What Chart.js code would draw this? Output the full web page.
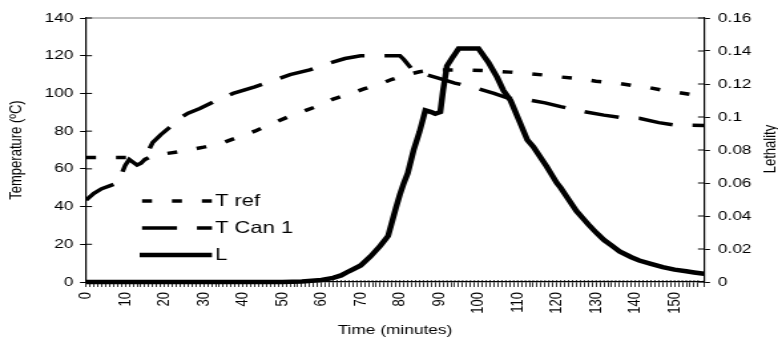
<!DOCTYPE html>
<html>
<head>
<meta charset="utf-8">
<script src="https://cdn.jsdelivr.net/npm/chart.js@4/dist/chart.umd.min.js"></script>
<style>
  html, body { margin: 0; padding: 0; background: #fff; overflow: hidden; }
</style>
</head>
<body>
<!-- the reference is stretched sideways, so the canvas is drawn narrow and shown wide -->
<canvas id="chart" width="585" height="340" style="display:block;width:778px;height:340px"></canvas>
<script>
// T ref (short dash), degrees C
const refTimes = [0, 11, 12, 13, 14, 15, 17, 20, 25, 30, 35, 39, 43, 48, 52, 56, 60, 63, 67, 71, 75, 78, 82, 85, 88, 93, 98, 103, 108, 113, 117, 121, 125, 130, 135, 139, 143, 147, 150, 154, 157.5];
const refTemps = [66, 66, 64, 62.5, 63, 65, 67, 68, 69.5, 71.5, 74, 77, 80, 84.5, 88, 91, 94, 97, 99.5, 102.5, 105, 107.5, 110, 111.5, 112.3, 112.4, 112.4, 112, 111.3, 110.5, 109.7, 108.7, 108, 106.5, 105.5, 104.3, 103.3, 101.7, 100.8, 99.5, 98.5];

// T Can 1 (long dash), degrees C
const canTimes = [0, 2, 4, 6, 8, 9, 10, 11, 12, 13, 14, 15, 16, 17, 19, 21, 24, 26, 29, 33, 37.5, 43, 48, 52, 57, 62, 66, 70, 80, 81, 83, 85, 90, 94, 99, 104, 107.5, 113, 117, 121, 127, 132, 136, 141, 146, 150, 157.5];
const canTemps = [43.5, 47, 49.5, 51, 52.5, 57, 62, 65, 63.5, 62, 63, 65.5, 70, 74, 78, 81.5, 87, 89.5, 92, 96, 100, 103.5, 107, 110, 112.5, 116, 118.5, 120, 120, 118, 113, 111, 108, 105.5, 103, 100, 97.5, 96.5, 95, 93, 90.3, 88.5, 87.3, 86.8, 84.5, 83.2, 83];

// L (solid), lethality on the right axis
const letTimes = [0, 50, 55, 60, 63, 65, 67, 70, 72.5, 75, 77, 79, 80, 81, 82, 83.5, 85, 86.5, 88, 89, 90.3, 91, 92, 93.4, 95, 100, 102.6, 104.8, 106.4, 108.2, 110, 112.5, 114, 117.4, 120, 121, 123, 125, 128, 130, 132, 134, 136, 139, 141, 144, 147, 150, 153, 155, 157.5];
const letValues = [0, 0, 0.0003, 0.0012, 0.0025, 0.004, 0.0065, 0.01, 0.0155, 0.022, 0.028, 0.045, 0.053, 0.06, 0.066, 0.08, 0.091, 0.104, 0.103, 0.102, 0.103, 0.116, 0.131, 0.136, 0.1415, 0.1415, 0.133, 0.124, 0.116, 0.11, 0.1, 0.086, 0.082, 0.07, 0.06, 0.057, 0.05, 0.043, 0.035, 0.03, 0.0255, 0.022, 0.0185, 0.015, 0.013, 0.011, 0.009, 0.0075, 0.0065, 0.0058, 0.005];

const seriesNames = ['T ref', 'T Can 1', 'L'];
const tempTicks = [0, 140, 20];
const lethTicks = [0, 0.16, 0.02];

const FONT = 'Arial, "Liberation Sans", sans-serif';

function points(times, values) {
  return times.map((t, i) => ({ x: t, y: values[i] }));
}

// axis titles, top frame, inner halves of the ticks and the legend inside the plot
const decor = {
  id: 'decor',
  afterDraw(chart) {
    const { ctx, chartArea: a, scales } = chart;
    ctx.save();

    ctx.strokeStyle = '#808080';
    ctx.lineWidth = 1.2;
    ctx.beginPath();
    ctx.moveTo(a.left, a.top);
    ctx.lineTo(a.right, a.top);
    ctx.stroke();

    ctx.strokeStyle = '#000';
    ctx.lineWidth = 1;
    scales.y.ticks.forEach(t => {
      const py = scales.y.getPixelForValue(t.value);
      ctx.beginPath(); ctx.moveTo(a.left, py); ctx.lineTo(a.left + 4.5, py); ctx.stroke();
    });
    scales.y1.ticks.forEach(t => {
      const py = scales.y1.getPixelForValue(t.value);
      ctx.beginPath(); ctx.moveTo(a.right - 4.5, py); ctx.lineTo(a.right, py); ctx.stroke();
    });
    ctx.lineWidth = 0.8;
    scales.x.ticks.forEach(t => {
      const px = scales.x.getPixelForValue(t.value);
      ctx.beginPath(); ctx.moveTo(px, a.bottom - 2); ctx.lineTo(px, a.bottom); ctx.stroke();
    });

    ctx.fillStyle = '#000';
    ctx.font = '13px ' + FONT;
    ctx.textAlign = 'center';
    ctx.textBaseline = 'middle';
    ctx.fillText('Time (minutes)', 297, 330);

    ctx.save();
    ctx.translate(12.5, 150);
    ctx.rotate(-Math.PI / 2);
    ctx.fillText('Temperature (ºC)', 0, 0);
    ctx.restore();

    ctx.save();
    ctx.translate(579.5, 149);
    ctx.rotate(-Math.PI / 2);
    ctx.fillText('Lethality', 0, 0);
    ctx.restore();

    // legend
    const rows = [201, 228, 255];
    chart.data.datasets.forEach((ds, i) => {
      const y = rows[i];
      ctx.strokeStyle = ds.borderColor;
      ctx.lineWidth = ds.borderWidth;
      ctx.setLineDash(ds.borderDash || []);
      ctx.beginPath();
      ctx.moveTo(i === 2 ? 105 : 106.8, y);
      ctx.lineTo(159.4, y);
      ctx.stroke();
      ctx.setLineDash([]);
      ctx.font = '16.5px ' + FONT;
      ctx.textAlign = 'left';
      ctx.fillText(ds.label, 161.7, y);
    });

    ctx.restore();
  }
};

const ctx = document.getElementById('chart').getContext('2d');

new Chart(ctx, {
  type: 'line',
  data: {
    datasets: [
      {
        label: seriesNames[0],
        data: points(refTimes, refTemps),
        yAxisID: 'y',
        borderColor: '#000',
        borderWidth: 3.5,
        borderDash: [7.5, 15],
        pointRadius: 0,
        tension: 0,
      },
      {
        label: seriesNames[1],
        data: points(canTimes, canTemps),
        yAxisID: 'y',
        borderColor: '#000',
        borderWidth: 3.5,
        borderDash: [26.3, 15],
        pointRadius: 0,
        tension: 0,
      },
      {
        label: seriesNames[2],
        data: points(letTimes, letValues),
        yAxisID: 'y1',
        borderColor: '#000',
        borderWidth: 4.5,
        pointRadius: 0,
        tension: 0,
        clip: false,
      },
    ],
  },
  options: {
    responsive: false,
    animation: false,
    devicePixelRatio: 1,
    layout: { padding: { top: 18, left: 0, right: 0, bottom: 0 } },
    plugins: {
      legend: { display: false },
      tooltip: { enabled: false },
    },
    scales: {
      x: {
        type: 'linear',
        min: 0,
        max: 157.5,
        afterFit: s => { s.height = 58; },
        grid: { drawOnChartArea: false, tickLength: 5, color: '#000', lineWidth: 0.8 },
        border: { color: '#000', width: 1.3 },
        ticks: {
          stepSize: 1,
          autoSkip: false,
          minRotation: 90,
          maxRotation: 90,
          padding: 5,
          color: '#000',
          font: { family: FONT, size: 13 },
          callback: v => (v % 10 === 0 ? String(v) : ''),
        },
      },
      y: {
        position: 'left',
        min: tempTicks[0],
        max: tempTicks[1],
        afterFit: s => { s.width = 64.7; },
        grid: { drawOnChartArea: false, tickLength: 4.5, color: '#000' },
        border: { color: '#000', width: 1.2 },
        ticks: {
          stepSize: tempTicks[2],
          padding: 5,
          color: '#000',
          font: { family: FONT, size: 13 },
        },
      },
      y1: {
        position: 'right',
        min: lethTicks[0],
        max: lethTicks[1],
        afterFit: s => { s.width = 55.7; },
        grid: { drawOnChartArea: false, tickLength: 4.5, color: '#000' },
        border: { color: '#000', width: 1.2 },
        ticks: {
          stepSize: lethTicks[2],
          padding: 6,
          color: '#000',
          font: { family: FONT, size: 13 },
          callback: v => String(+v.toFixed(2)),
        },
      },
    },
  },
  plugins: [decor],
});
</script>
</body>
</html>
